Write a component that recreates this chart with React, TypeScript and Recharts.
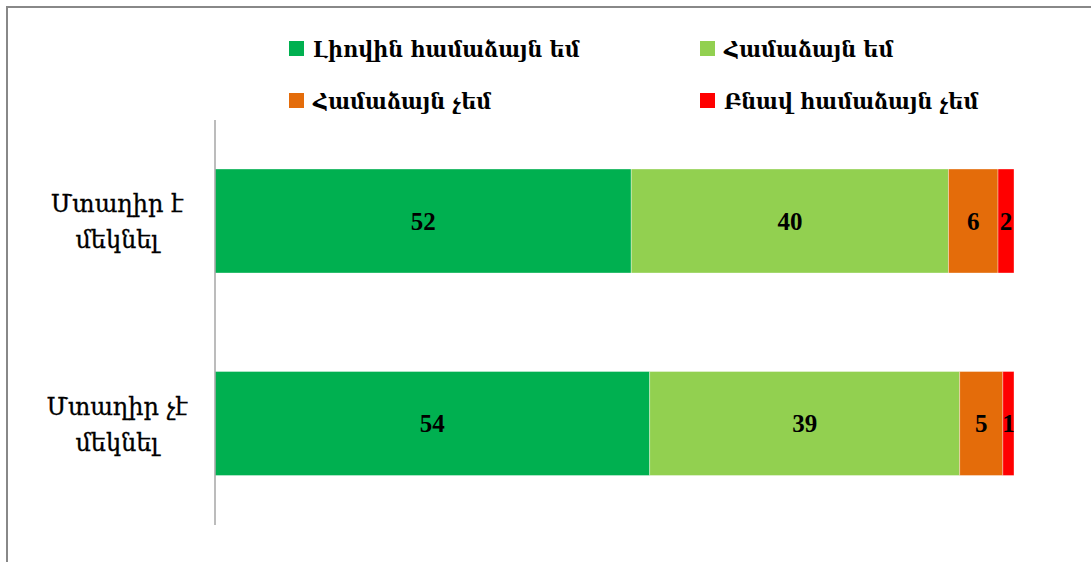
import { BarChart, Bar, XAxis, YAxis, Legend, LabelList } from 'recharts';

const categories = ['Մտաղիր է մեկնել', 'Մտաղիր չէ մեկնել'];
const stronglyAgree = [52.1, 54.4];
const agree = [39.7, 38.8];
const disagree = [6.2, 5.4];
const stronglyDisagree = [2.0, 1.4];

const series = [
  { key: 'stronglyAgree', name: 'Լիովին համաձայն եմ', color: '#00b050' },
  { key: 'agree', name: 'Համաձայն եմ', color: '#92d050' },
  { key: 'disagree', name: 'Համաձայն չեմ', color: '#e46c0a' },
  { key: 'stronglyDisagree', name: 'Բնավ համաձայն չեմ', color: '#ff0000' },
];

const data = categories.map((name, i) => ({
  name,
  stronglyAgree: stronglyAgree[i],
  agree: agree[i],
  disagree: disagree[i],
  stronglyDisagree: stronglyDisagree[i],
}));

const CategoryTick = (props: any) => {
  const { x, y, payload } = props;
  const words = String(payload.value).split(' ');
  const line1 = words.slice(0, 2).join(' ');
  const line2 = words.slice(2).join(' ');
  return (
    <text x={x - 90} y={y} textAnchor="middle" fontFamily="'DejaVu Serif', serif" fontSize={24} fill="#000"
      stroke="#000" strokeWidth={0.3}>
      <tspan x={x - 90} dy={-9}>{line1}</tspan>
      <tspan x={x - 90} dy={36}>{line2}</tspan>
    </text>
  );
};

const LegendContent = () => (
  <div style={{ display: 'grid', gridTemplateColumns: '411px 300px', rowGap: 26, fontFamily: "'DejaVu Serif Condensed', 'DejaVu Serif', serif", fontSize: 23, fontWeight: 'bold', color: '#000' }}>
    {series.map(s => (
      <div key={s.key} style={{ display: 'flex', alignItems: 'center', height: 26 }}>
        <span style={{ width: 15, height: 15, background: s.color, marginRight: 9, display: 'inline-block' }} />
        <span>{s.name}</span>
      </div>
    ))}
  </div>
);

const fmt = (v: any) => Math.round(Number(v));

export default function App() {
  return (
    <div style={{ position: 'absolute', left: 0, top: 0, width: 1091, height: 562, overflow: 'hidden', background: '#fff' }}>
      <div style={{ position: 'absolute', left: 6, top: 6, width: 1200, height: 700, borderLeft: '2px solid #888', borderTop: '2px solid #888' }} />
      <div style={{ position: 'absolute', left: 0, top: 0 }}>
        <BarChart width={1091} height={562} data={data} layout="vertical" barSize={104}
          margin={{ top: 120, right: 77, bottom: 37, left: 0 }}>
          <XAxis type="number" domain={[0, 100]} hide />
          <YAxis type="category" dataKey="name" width={215} axisLine={{ stroke: '#a6a6a6', strokeWidth: 1.5 }}
            tickLine={false} tick={<CategoryTick />} />
          <Legend layout="horizontal" verticalAlign="middle" align="center" content={<LegendContent />}
            wrapperStyle={{ top: 35, left: 289, width: 760, height: 90 }} />
          {series.map(s => (
            <Bar key={s.key} dataKey={s.key} name={s.name} stackId="a" fill={s.color}
              stroke="rgba(255,255,255,0.35)" strokeWidth={1} isAnimationActive={false}>
              <LabelList dataKey={s.key} position="center" formatter={fmt}
                style={{ fontFamily: "'Liberation Serif', serif", fontSize: 25, fontWeight: 'bold', fill: '#000' }} />
            </Bar>
          ))}
        </BarChart>
      </div>
    </div>
  );
}
